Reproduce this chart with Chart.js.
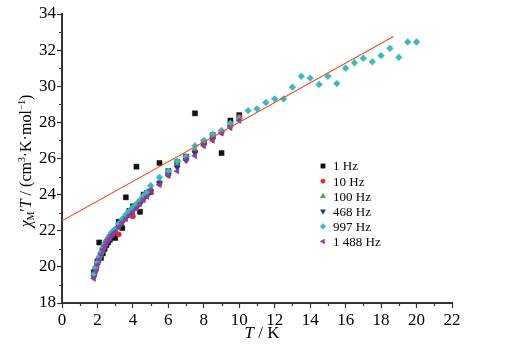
<!DOCTYPE html>
<html>
<head>
<meta charset="utf-8">
<script src="https://cdn.jsdelivr.net/npm/chart.js@4"></script>
<style>
  body { margin: 0; background: #fff; }
  #wrap { width: 513px; height: 349px; }
</style>
</head>
<body>
<div id="wrap"><canvas id="grafico" width="513" height="349"></canvas></div>
<script>
// temperaturas (K)
const tempBaja = [1.8, 1.9, 2.0, 2.1, 2.2, 2.3, 2.4, 2.5, 2.6, 2.7, 2.8, 2.9, 3.0, 3.2, 3.4, 3.6, 3.8, 4.0, 4.2, 4.4, 4.6, 4.8, 5.0, 5.5, 6.0, 6.5, 7.0, 7.5, 8.0, 8.5, 9.0, 9.5, 10.0];
const tempAlta = [10.5, 11.0, 11.5, 12.0, 12.5, 13.0, 13.5, 14.0, 14.5, 15.0, 15.5, 16.0, 16.5, 17.0, 17.5, 18.0, 18.5, 19.0, 19.5, 20.0];

// chi'T por frecuencia
const chi1Hz = [19.7, 19.9, 20.3, 21.35, 20.5, 20.75, 21.0, 21.2, 21.35, 21.5, 21.7, 21.85, 21.6, 22.5, 22.15, 23.85, 23.1, 23.35, 25.55, 23.05, 24.0, 24.1, 24.15, 25.75, 25.3, 25.8, 26.1, 28.5, 26.9, 27.3, 26.3, 28.1, 28.4];
const chi10Hz = [19.5, 19.85, 20.2, 20.5, 20.75, 21.0, 21.2, 21.4, 21.55, 21.7, 21.85, 21.95, 22.05, 21.8, 22.55, 22.75, 22.95, 22.8, 23.35, 23.55, 23.8, 24.0, 24.15, 24.6, 25.1, 25.6, 25.95, 26.4, 26.8, 27.15, 27.45, 27.85, 28.3];
const chi100Hz = [19.55, 19.9, 20.2, 20.5, 20.75, 21.0, 21.2, 21.4, 21.55, 21.7, 21.85, 21.95, 22.05, 22.3, 22.55, 22.8, 23.0, 23.2, 23.4, 23.6, 23.85, 24.05, 24.3, 24.75, 25.15, 25.65, 26.0, 26.5, 26.85, 27.2, 27.5, 27.85, 28.2];
const chi468Hz = [19.45, 19.8, 20.15, 20.45, 20.7, 20.95, 21.15, 21.35, 21.5, 21.65, 21.8, 21.9, 22.0, 22.25, 22.5, 22.7, 22.9, 23.1, 23.3, 23.5, 23.75, 23.95, 24.2, 24.65, 25.1, 25.5, 25.9, 26.3, 26.75, 27.05, 27.45, 27.75, 28.15];
const chi997Hz = [19.6, 19.95, 20.25, 20.55, 20.8, 21.05, 21.25, 21.45, 21.6, 21.75, 21.9, 22.0, 22.1, 22.4, 22.65, 22.9, 23.1, 23.3, 23.5, 23.7, 23.95, 24.15, 24.5, 24.95, 25.3, 25.85, 26.1, 26.7, 27.0, 27.35, 27.55, 27.95, 28.2,
                  28.65, 28.75, 29.1, 29.3, 29.3, 29.95, 30.55, 30.45, 30.1, 30.55, 30.15, 31.0, 31.3, 31.55, 31.35, 31.7, 32.1, 31.6, 32.45, 32.45];
const chi1488Hz = [19.35, 19.75, 20.1, 20.4, 20.7, 20.95, 21.15, 21.35, 21.5, 21.6, 21.75, 21.85, 21.95, 22.2, 22.45, 22.65, 22.85, 23.05, 23.25, 23.5, 23.7, 23.9, 24.25, 24.55, 25.05, 25.3, 25.95, 26.15, 26.7, 27.0, 27.4, 27.7, 28.1];

// recta de ajuste
const ajusteT = [0, 18.7];
const ajusteChi = [22.55, 32.75];

const etiquetasX = [0, 2, 4, 6, 8, 10, 12, 14, 16, 18, 20, 22];
const etiquetasY = [18, 20, 22, 24, 26, 28, 30, 32, 34];

const FUENTE = "'Liberation Serif', 'Times New Roman', serif";

function puntos(xs, ys) {
    return ys.map((y, i) => ({ x: xs[i], y: y }));
}

const series = [
    { label: '1 Hz', data: puntos(tempBaja, chi1Hz), color: '#111111', style: 'rect', radius: 3.6, rot: 0, order: 6 },
    { label: '10 Hz', data: puntos(tempBaja, chi10Hz), color: '#e8262a', style: 'circle', radius: 2.6, rot: 0, order: 5 },
    { label: '100 Hz', data: puntos(tempBaja, chi100Hz), color: '#3f9f47', style: 'triangle', radius: 3.4, rot: 0, order: 4 },
    { label: '468 Hz', data: puntos(tempBaja, chi468Hz), color: '#27318a', style: 'triangle', radius: 3.4, rot: 180, order: 3 },
    { label: '997 Hz', data: puntos(tempBaja.concat(tempAlta), chi997Hz), color: '#3fb8bb', style: 'rectRot', radius: 3.4, rot: 0, order: 2 },
    { label: '1 488 Hz', data: puntos(tempBaja, chi1488Hz), color: '#8b3f9e', style: 'triangle', radius: 3.4, rot: -90, order: 1 }
];

const datasets = series.map(s => ({
    type: 'scatter',
    label: s.label,
    data: s.data,
    pointStyle: s.style,
    pointRadius: s.radius,
    pointRotation: s.rot,
    backgroundColor: s.color,
    borderColor: s.color,
    borderWidth: 0.5,
    order: s.order
}));

datasets.push({
    type: 'line',
    label: 'ajuste',
    data: puntos(ajusteT, ajusteChi),
    borderColor: '#e4562a',
    borderWidth: 1.2,
    pointRadius: 0,
    fill: false,
    order: 0
});

// texto con partes en cursiva, subíndices y superíndices
function dibujarPartes(ctx, partes, tam) {
    let ancho = 0;
    partes.forEach(p => {
        const t = p.s ? tam * p.s : tam;
        ctx.font = (p.i ? 'italic ' : '') + t + 'px ' + FUENTE;
        p.w = ctx.measureText(p.t).width;
        ancho += p.w;
    });
    let x = -ancho / 2;
    partes.forEach(p => {
        const t = p.s ? tam * p.s : tam;
        ctx.font = (p.i ? 'italic ' : '') + t + 'px ' + FUENTE;
        ctx.fillText(p.t, x, p.dy || 0);
        x += p.w;
    });
}

const plugins = {
    id: 'extras',
    afterDraw(chart) {
        const ctx = chart.ctx;
        const sx = chart.scales.x, sy = chart.scales.y;
        const area = chart.chartArea;
        ctx.save();
        // marcas menores
        ctx.strokeStyle = '#333';
        ctx.lineWidth = 1.2;
        ctx.beginPath();
        for (let v = 1; v < 22; v += 2) {
            const px = Math.round(sx.getPixelForValue(v)) + 0.5;
            ctx.moveTo(px, area.bottom);
            ctx.lineTo(px, area.bottom + 3);
        }
        for (let v = 19; v < 34; v += 2) {
            const py = Math.round(sy.getPixelForValue(v)) + 0.5;
            ctx.moveTo(area.left, py);
            ctx.lineTo(area.left - 3, py);
        }
        ctx.stroke();

        ctx.fillStyle = '#000';
        ctx.textBaseline = 'alphabetic';
        ctx.textAlign = 'left';

        // título eje x
        ctx.save();
        ctx.translate(262, 338);
        dibujarPartes(ctx, [{ t: 'T', i: true }, { t: ' / K' }], 17);
        ctx.restore();

        // título eje y
        ctx.save();
        ctx.translate(31, 161);
        ctx.rotate(-Math.PI / 2);
        dibujarPartes(ctx, [
            { t: 'χ', i: true },
            { t: 'M', s: 0.6, dy: 3 },
            { t: '′' },
            { t: 'T', i: true },
            { t: ' / (cm' },
            { t: '3', s: 0.6, dy: -6 },
            { t: '·K·mol' },
            { t: '−1', s: 0.6, dy: -6 },
            { t: ')' }
        ], 16);
        ctx.restore();

        // leyenda
        ctx.font = '13px ' + FUENTE;
        ctx.textBaseline = 'middle';
        series.forEach((s, i) => {
            const y = 166 + i * 15.1;
            ctx.fillStyle = s.color;
            ctx.strokeStyle = s.color;
            ctx.lineWidth = 0.5;
            Chart.helpers.drawPoint(ctx, { pointStyle: s.style, radius: s.radius * 0.85, rotation: s.rot, borderWidth: 0.5 }, 323, y);
            ctx.fillStyle = '#000';
            ctx.fillText(s.label, 333, y + 1);
        });
        ctx.restore();
    }
};

const ctx = document.getElementById('grafico').getContext('2d');
const grafico = new Chart(ctx, {
    data: { datasets: datasets },
    plugins: [plugins],
    options: {
        responsive: false,
        animation: false,
        layout: { padding: { left: 0, top: 14, right: 61, bottom: 0 } },
        plugins: { legend: { display: false }, tooltip: { enabled: false } },
        scales: {
            x: {
                type: 'linear',
                min: 0,
                max: 22,
                afterFit: s => { s.height = 46; },
                afterBuildTicks: s => { s.ticks = etiquetasX.map(v => ({ value: v })); },
                grid: { drawOnChartArea: false, tickLength: 5, tickColor: '#333', tickWidth: 1.2 },
                border: { color: '#333', width: 2 },
                ticks: { color: '#000', padding: 2, maxRotation: 0, font: { family: FUENTE, size: 17 } }
            },
            y: {
                type: 'linear',
                min: 18,
                max: 34,
                afterFit: s => { s.width = 62; },
                afterBuildTicks: s => { s.ticks = etiquetasY.map(v => ({ value: v })); },
                grid: { drawOnChartArea: false, tickLength: 5, tickColor: '#333', tickWidth: 1.2 },
                border: { color: '#333', width: 2 },
                ticks: { color: '#000', padding: 1, font: { family: FUENTE, size: 17 } }
            }
        }
    }
});
</script>
</body>
</html>
